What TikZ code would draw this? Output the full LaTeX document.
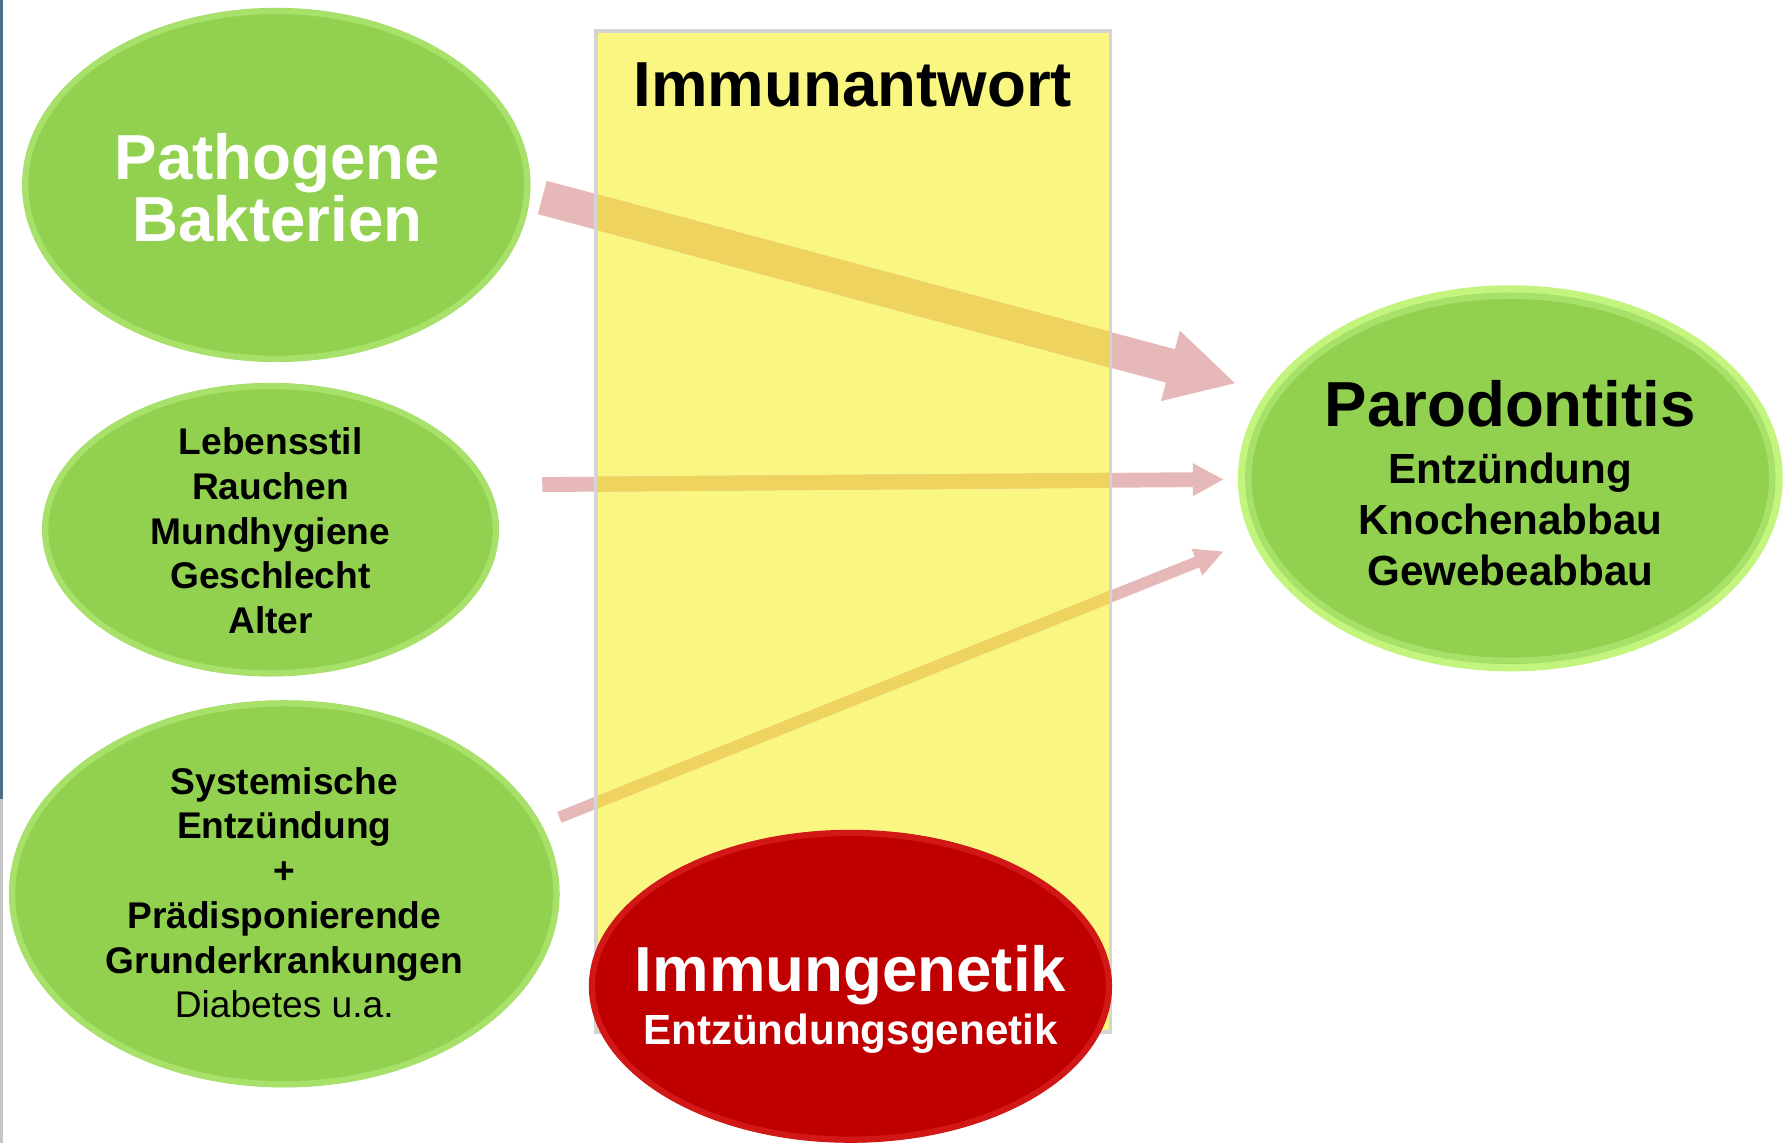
\documentclass[tikz,border=0pt]{standalone}
\usepackage{fontspec}
\setmainfont{Liberation Sans}
\usetikzlibrary{arrows.meta,shapes.geometric}
\definecolor{leafgreen}{HTML}{92D050}
\definecolor{leafrim}{HTML}{BDF282}
\definecolor{glowgreen}{HTML}{C2F47E}
\definecolor{boxyellow}{HTML}{FAF682}
\definecolor{boxborder}{HTML}{D4D4D4}
\definecolor{arrowpink}{HTML}{E6B9B8}
\definecolor{arrowgold}{HTML}{EED45E}
\definecolor{deepred}{HTML}{C00000}
\definecolor{redrim}{HTML}{E83535}
\definecolor{edgeblue}{HTML}{4A6E8C}
\begin{document}
\begin{tikzpicture}[x=0.01cm,y=-0.01cm,
  greenell/.style={ellipse, fill=leafgreen, inner sep=0pt, outer sep=0pt},
  rimline/.style={draw=leafrim, line width=1.5pt, opacity=0.5},
  redrimline/.style={draw=redrim, line width=1.5pt, opacity=0.45},
  bigwhite/.style={font=\fontsize{15.85}{15.65}\selectfont\bfseries, text=white, align=center, inner sep=0pt},
  smallblack/.style={font=\fontsize{9.25}{11.15}\selectfont\bfseries, text=black, align=center, inner sep=0pt},
  midblack/.style={font=\fontsize{10.5}{12.8}\selectfont\bfseries, text=black, align=center, inner sep=0pt},
  shaft/.style={draw=arrowpink, line cap=butt},
  goldshaft/.style={draw=arrowgold, line cap=butt}
]
\useasboundingbox (0,0) rectangle (1568,1001);
\fill[white] (0,0) rectangle (1568,1001);
\fill[edgeblue] (0,0) rectangle (3,700);
\fill[gray!45] (0,700) rectangle (3,1001);

% left ellipses
\node[greenell, minimum width=4.45cm, minimum height=3.10cm] (pathogen) at (242,162) {};
\draw[rimline] (pathogen.center) ellipse [x radius=2.197cm, y radius=1.522cm];
\node[bigwhite] (pathogentext) at (243,164.5) {Pathogene\\Bakterien};

\node[greenell, minimum width=4.00cm, minimum height=2.57cm] (lifestyle) at (237,464) {};
\draw[rimline] (lifestyle.center) ellipse [x radius=1.972cm, y radius=1.257cm];
\node[smallblack] (lifestyletext) at (237,465) {Lebensstil\\Rauchen\\Mundhygiene\\Geschlecht\\Alter};

\node[greenell, minimum width=4.82cm, minimum height=3.39cm] (systemic) at (249,783) {};
\draw[rimline] (systemic.center) ellipse [x radius=2.382cm, y radius=1.667cm];
\node[smallblack] (systemictext) at (249,782) {Systemische\\Entzündung\\+\\Prädisponierende\\Grunderkrankungen\\{\mdseries Diabetes u.a.}};

% right ellipse
\node[ellipse, fill=glowgreen, inner sep=0pt, minimum width=4.77cm, minimum height=3.38cm] (parodontglow) at (1323,419) {};
\node[greenell, minimum width=4.64cm, minimum height=3.25cm] (parodont) at (1323,419) {};
\draw[rimline] (parodont.center) ellipse [x radius=2.292cm, y radius=1.597cm];
\node[midblack] (parodonttext) at (1323,423.5) {{\fontsize{15.85}{15.85}\selectfont Parodontitis}\\[1.2pt]Entzündung\\Knochenabbau\\Gewebeabbau};

% immune response box
\node[rectangle, fill=boxyellow, draw=boxborder, line width=0.6pt, inner sep=0pt,
      minimum width=4.49cm, minimum height=8.75cm] (immunbox) at (747.5,465.5) {};
\node[font=\fontsize{15.85}{15.85}\selectfont\bfseries, inner sep=0pt, anchor=base] (immuntitle) at (747,93) {Immunantwort};

% arrows
\coordinate (a1s) at (475,173);
\coordinate (a1e) at (1083,336);
\coordinate (a2s) at (475,424.5);
\coordinate (a2e) at (1072,420);
\coordinate (a3s) at (490,716);
\coordinate (a3e) at (1072,483);

\draw[shaft, line width=8.6pt, -{Triangle[length=17pt,width=16.8pt]}] (a1s) -- (a1e);
\draw[shaft, line width=3.7pt, -{Triangle[length=7.7pt,width=7.6pt]}] (a2s) -- (a2e);
\draw[shaft, line width=2.9pt, -{Triangle[length=7.2pt,width=6.6pt]}] (a3s) -- (a3e);
\begin{scope}
  \clip (immunbox.south west) rectangle (immunbox.north east);
  \draw[goldshaft, line width=8.6pt] (a1s) -- (a1e);
  \draw[goldshaft, line width=3.7pt] (a2s) -- (a2e);
  \draw[goldshaft, line width=2.9pt] (a3s) -- (a3e);
\end{scope}
\draw[boxborder, line width=0.6pt] (immunbox.south west) rectangle (immunbox.north east);

% red ellipse
\node[ellipse, fill=deepred, inner sep=0pt, minimum width=4.58cm, minimum height=2.74cm] (immungen) at (745,864) {};
\draw[redrimline] (immungen.center) ellipse [x radius=2.262cm, y radius=1.342cm];
\node[font=\fontsize{10.5}{12.8}\selectfont\bfseries, text=white, align=center, inner sep=0pt] (immungentext) at (745,875.5) {{\fontsize{15.85}{15.85}\selectfont Immungenetik}\\[0.6pt]Entzündungsgenetik};
\end{tikzpicture}
\end{document}
